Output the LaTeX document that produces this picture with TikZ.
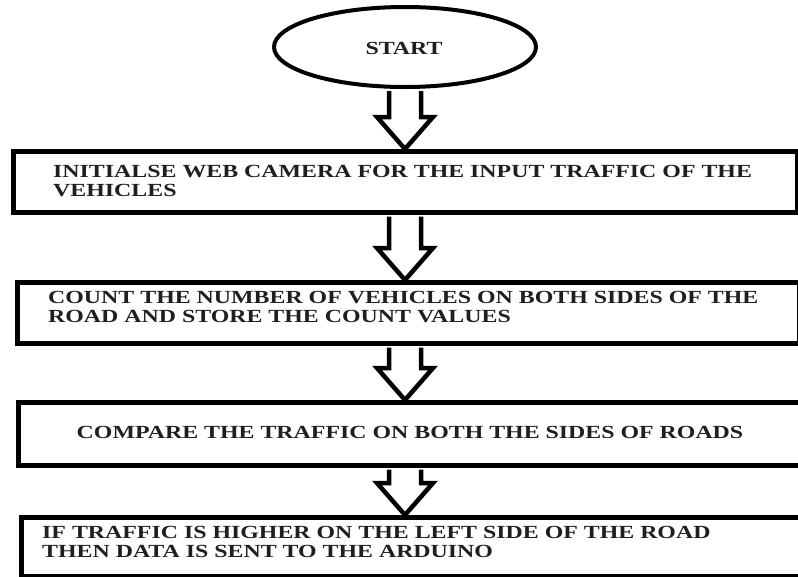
\documentclass[tikz,border=0pt]{standalone}
\usepackage{fontspec}
\setmainfont{Liberation Serif}[FakeStretch=1.29, BoldFont={Liberation Serif Bold}, BoldFeatures={FakeStretch=1.29}]
\usetikzlibrary{shapes.geometric,calc}
\tikzset{
  boxline/.style={draw=black, line width=4.5pt, fill=white, rectangle, inner sep=0pt},
  oval/.style={draw=black, line width=4pt, fill=white, ellipse, inner sep=0pt},
  label/.style={font=\fontsize{18.5}{18.8}\selectfont\bfseries, inner sep=0pt, align=left, text=black!88},
  blockarrow/.style={draw=black, line width=4.5pt, fill=white, line join=miter}
}
\newcommand{\flowarrow}[2]{%
  \draw[blockarrow] let \p1=(start.center |- #1.south), \p2=(start.center |- #2.north) in
    (\x1-16pt,\y1-2pt) -- (\x1-16pt,\y2+32pt) -- (\x1-28pt,\y2+32pt) -- (\x1,\y2)
    -- (\x1+28pt,\y2+32pt) -- (\x1+16pt,\y2+32pt) -- (\x1+16pt,\y1-2pt);}
\begin{document}
\begin{tikzpicture}[x=1pt,y=-1pt]
\useasboundingbox (0,0) rectangle (798,576);
\fill[white] (0,0) rectangle (798,576);
\node[oval, minimum width=262pt, minimum height=80pt] (start) at (405,47) {};
\node[label, anchor=base] (tstart) at (404,54) {START};
\node[boxline, minimum width=784pt, minimum height=61pt, anchor=north west] (b1) at (11,149) {};
\node[boxline, minimum width=782pt, minimum height=61pt, anchor=north west] (b2) at (15,280) {};
\node[boxline, minimum width=789pt, minimum height=63pt, anchor=north west] (b3) at (16,400) {};
\node[boxline, minimum width=786pt, minimum height=59pt, anchor=north west] (b4) at (19,515) {};
\node[label, anchor=base west] (t1) at (53,196.5) {INITIALSE WEB CAMERA FOR THE INPUT TRAFFIC OF THE\\VEHICLES};
\node[label, anchor=base west] (t2) at (48,322) {COUNT THE NUMBER OF VEHICLES ON BOTH SIDES OF THE\\ROAD AND STORE THE COUNT VALUES};
\node[label, anchor=base] (t3) at (410,438) {COMPARE THE TRAFFIC ON BOTH THE SIDES OF ROADS};
\node[label, anchor=base west] (t4) at (42,557) {IF TRAFFIC IS HIGHER ON THE LEFT SIDE OF THE ROAD\\THEN DATA IS SENT TO THE ARDUINO};
\flowarrow{start}{b1}
\flowarrow{b1}{b2}
\flowarrow{b2}{b3}
\flowarrow{b3}{b4}
\end{tikzpicture}
\end{document}
